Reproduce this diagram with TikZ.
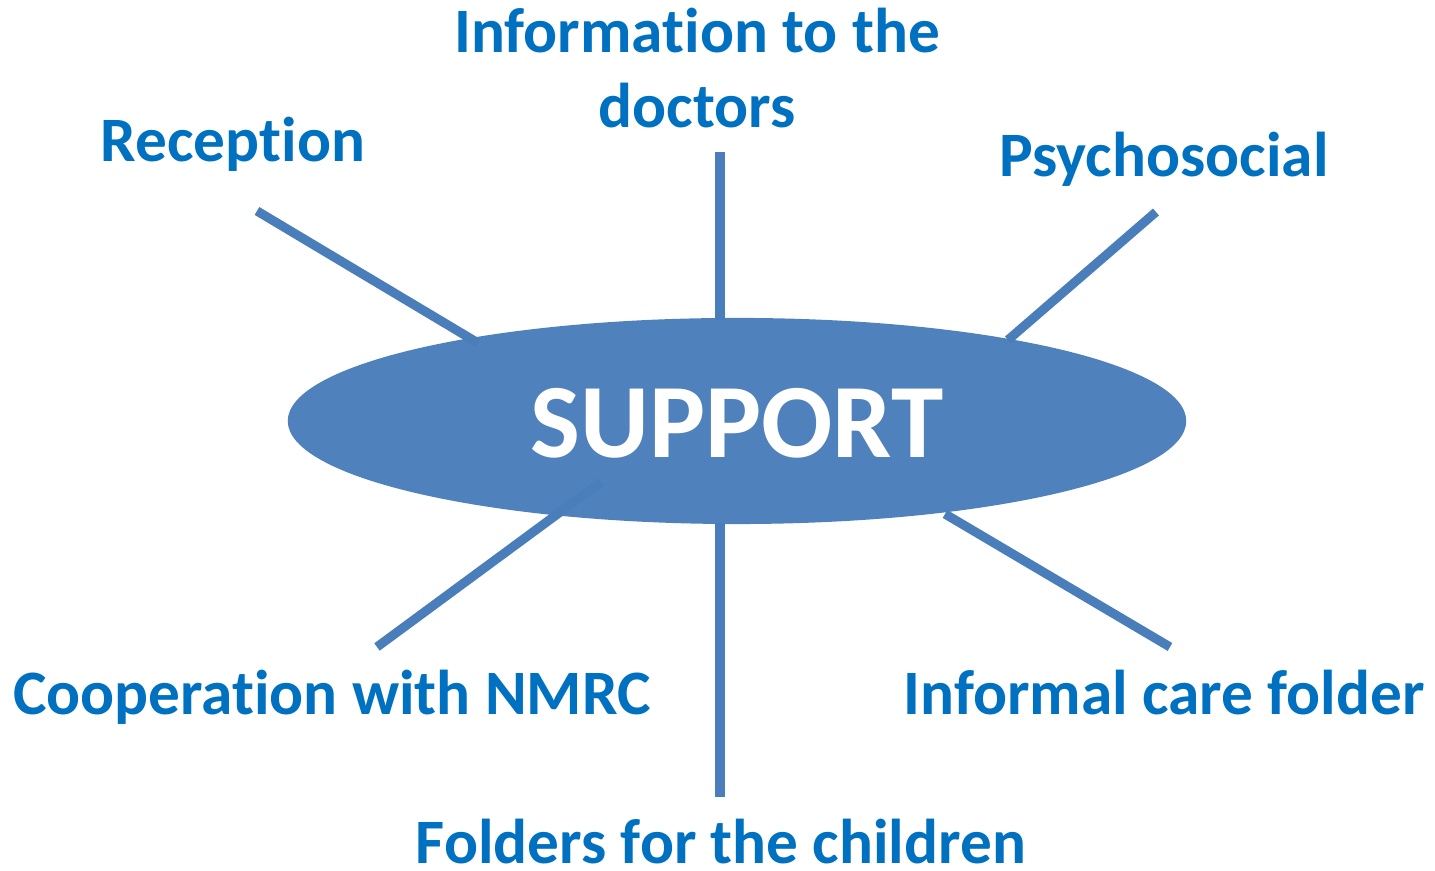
\documentclass[tikz,border=0pt]{standalone}
\usepackage{fontspec}
\setmainfont[Ligatures=NoCommon]{Carlito}
\usetikzlibrary{shapes.geometric}
\definecolor{labelblue}{HTML}{0070C0}
\definecolor{hubblue}{HTML}{4F81BD}
\definecolor{spokeblue}{HTML}{4A7EBB}

\begin{document}
\begin{tikzpicture}[x=0.01cm, y=-0.01cm,
    label/.style={text=labelblue, font=\fontsize{18}{21.6}\selectfont\bfseries, inner sep=0pt, anchor=base, align=center},
    spoke/.style={draw=spokeblue, line width=2.6pt}]
    \useasboundingbox (0,0) rectangle (1435,871);

    \node[ellipse, fill=hubblue, minimum width=8.98cm, minimum height=2.06cm, inner sep=0pt] (support) at (737,421) {};
    \node[text=white, font=\fontsize{30}{36}\selectfont\bfseries, inner sep=0pt, anchor=base] (supporttext) at (737,458) {SUPPORT};

    \node[label] (reception) at (233,162) {Reception};
    \node[label] (info) at (697,128) {Information to the\\doctors};
    \node[label] (psycho) at (1164,177) {Psychosocial};
    \node[label] (coop) at (332,715) {Cooperation with NMRC};
    \node[label] (informal) at (1164,715) {Informal care folder};
    \node[label, text depth=0pt] (folders) at (721,864) {Folders for the children};

    \coordinate (R1) at (257,211);  \coordinate (R2) at (478,343);
    \coordinate (I1) at (720,152);  \coordinate (I2) at (720,320);
    \coordinate (P1) at (1156,212); \coordinate (P2) at (1008,340);
    \coordinate (C1) at (377,647);  \coordinate (C2) at (601,482);
    \coordinate (F1) at (720,797);  \coordinate (F2) at (720,523);
    \coordinate (N1) at (1170,647); \coordinate (N2) at (945,514);

    \draw[spoke] (R1) -- (R2);
    \draw[spoke] (I1) -- (I2);
    \draw[spoke] (P1) -- (P2);
    \draw[spoke] (C1) -- (C2);
    \draw[spoke] (F1) -- (F2);
    \draw[spoke] (N1) -- (N2);
\end{tikzpicture}
\end{document}
